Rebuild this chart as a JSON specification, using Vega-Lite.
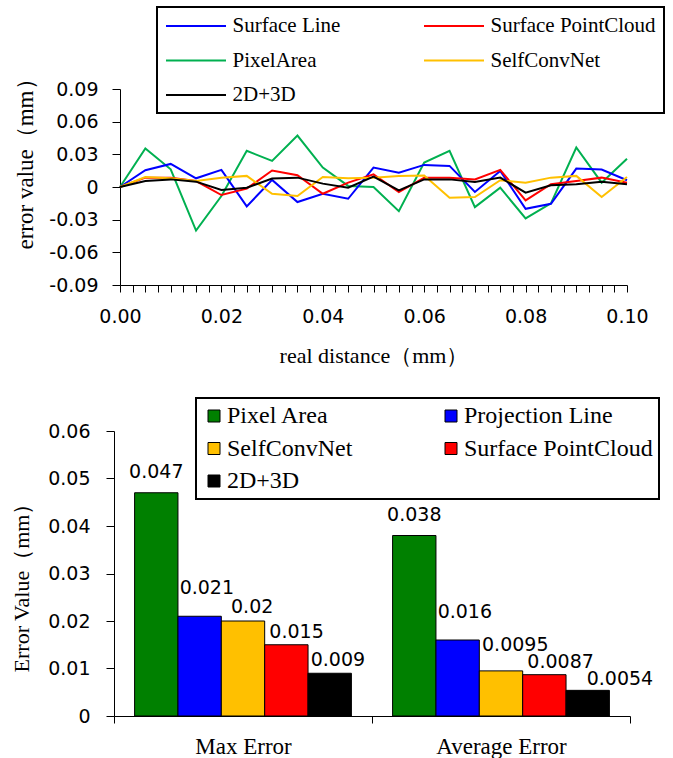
{
  "$schema": "https://vega.github.io/schema/vega-lite/v6.json",
  "autosize": {"type": "pad"},
  "padding": {"left": 10, "top": 6, "right": 0, "bottom": 0},
  "background": "white",
  "spacing": 31,
  "datasets": {
    "lines": [
      {"x": 0, "series": "PixelArea", "value": 0}, {"x": 0.005, "series": "PixelArea", "value": 0.0354}, {"x": 0.01, "series": "PixelArea", "value": 0.0163}, {"x": 0.015, "series": "PixelArea", "value": -0.040}, {"x": 0.02, "series": "PixelArea", "value": -0.0083}, {"x": 0.025, "series": "PixelArea", "value": 0.0332}, {"x": 0.03, "series": "PixelArea", "value": 0.024}, {"x": 0.035, "series": "PixelArea", "value": 0.0472}, {"x": 0.04, "series": "PixelArea", "value": 0.0178}, {"x": 0.045, "series": "PixelArea", "value": 0.001}, {"x": 0.05, "series": "PixelArea", "value": 0}, {"x": 0.055, "series": "PixelArea", "value": -0.0222}, {"x": 0.06, "series": "PixelArea", "value": 0.0225}, {"x": 0.065, "series": "PixelArea", "value": 0.0332}, {"x": 0.07, "series": "PixelArea", "value": -0.0185}, {"x": 0.075, "series": "PixelArea", "value": -0.0006}, {"x": 0.08, "series": "PixelArea", "value": -0.0289}, {"x": 0.085, "series": "PixelArea", "value": -0.015}, {"x": 0.09, "series": "PixelArea", "value": 0.0363}, {"x": 0.095, "series": "PixelArea", "value": 0.004}, {"x": 0.1, "series": "PixelArea", "value": 0.026},
      {"x": 0, "series": "Surface Line", "value": 0}, {"x": 0.005, "series": "Surface Line", "value": 0.0154}, {"x": 0.01, "series": "Surface Line", "value": 0.0212}, {"x": 0.015, "series": "Surface Line", "value": 0.008}, {"x": 0.02, "series": "Surface Line", "value": 0.0157}, {"x": 0.025, "series": "Surface Line", "value": -0.0178}, {"x": 0.03, "series": "Surface Line", "value": 0.0065}, {"x": 0.035, "series": "Surface Line", "value": -0.0138}, {"x": 0.04, "series": "Surface Line", "value": -0.0062}, {"x": 0.045, "series": "Surface Line", "value": -0.0108}, {"x": 0.05, "series": "Surface Line", "value": 0.0178}, {"x": 0.055, "series": "Surface Line", "value": 0.0132}, {"x": 0.06, "series": "Surface Line", "value": 0.0203}, {"x": 0.065, "series": "Surface Line", "value": 0.0194}, {"x": 0.07, "series": "Surface Line", "value": -0.0046}, {"x": 0.075, "series": "Surface Line", "value": 0.0148}, {"x": 0.08, "series": "Surface Line", "value": -0.02}, {"x": 0.085, "series": "Surface Line", "value": -0.0154}, {"x": 0.09, "series": "Surface Line", "value": 0.0169}, {"x": 0.095, "series": "Surface Line", "value": 0.016}, {"x": 0.1, "series": "Surface Line", "value": 0.0062},
      {"x": 0, "series": "Surface PointCloud", "value": 0}, {"x": 0.005, "series": "Surface PointCloud", "value": 0.0086}, {"x": 0.01, "series": "Surface PointCloud", "value": 0.0086}, {"x": 0.015, "series": "Surface PointCloud", "value": 0.0055}, {"x": 0.02, "series": "Surface PointCloud", "value": -0.0074}, {"x": 0.025, "series": "Surface PointCloud", "value": -0.0015}, {"x": 0.03, "series": "Surface PointCloud", "value": 0.0151}, {"x": 0.035, "series": "Surface PointCloud", "value": 0.0108}, {"x": 0.04, "series": "Surface PointCloud", "value": -0.0062}, {"x": 0.045, "series": "Surface PointCloud", "value": 0.004}, {"x": 0.05, "series": "Surface PointCloud", "value": 0.0117}, {"x": 0.055, "series": "Surface PointCloud", "value": -0.0046}, {"x": 0.06, "series": "Surface PointCloud", "value": 0.0086}, {"x": 0.065, "series": "Surface PointCloud", "value": 0.0086}, {"x": 0.07, "series": "Surface PointCloud", "value": 0.007}, {"x": 0.075, "series": "Surface PointCloud", "value": 0.0157}, {"x": 0.08, "series": "Surface PointCloud", "value": -0.0123}, {"x": 0.085, "series": "Surface PointCloud", "value": 0.0025}, {"x": 0.09, "series": "Surface PointCloud", "value": 0.0055}, {"x": 0.095, "series": "Surface PointCloud", "value": 0.0086}, {"x": 0.1, "series": "Surface PointCloud", "value": 0.004},
      {"x": 0, "series": "SelfConvNet", "value": 0}, {"x": 0.005, "series": "SelfConvNet", "value": 0.0092}, {"x": 0.01, "series": "SelfConvNet", "value": 0.008}, {"x": 0.015, "series": "SelfConvNet", "value": 0.0055}, {"x": 0.02, "series": "SelfConvNet", "value": 0.0086}, {"x": 0.025, "series": "SelfConvNet", "value": 0.0102}, {"x": 0.03, "series": "SelfConvNet", "value": -0.0062}, {"x": 0.035, "series": "SelfConvNet", "value": -0.0083}, {"x": 0.04, "series": "SelfConvNet", "value": 0.0092}, {"x": 0.045, "series": "SelfConvNet", "value": 0.008}, {"x": 0.05, "series": "SelfConvNet", "value": 0.0086}, {"x": 0.055, "series": "SelfConvNet", "value": 0.0102}, {"x": 0.06, "series": "SelfConvNet", "value": 0.0105}, {"x": 0.065, "series": "SelfConvNet", "value": -0.0098}, {"x": 0.07, "series": "SelfConvNet", "value": -0.0092}, {"x": 0.075, "series": "SelfConvNet", "value": 0.0062}, {"x": 0.08, "series": "SelfConvNet", "value": 0.004}, {"x": 0.085, "series": "SelfConvNet", "value": 0.0086}, {"x": 0.09, "series": "SelfConvNet", "value": 0.0102}, {"x": 0.095, "series": "SelfConvNet", "value": -0.0092}, {"x": 0.1, "series": "SelfConvNet", "value": 0.0092},
      {"x": 0, "series": "2D+3D", "value": 0}, {"x": 0.005, "series": "2D+3D", "value": 0.0055}, {"x": 0.01, "series": "2D+3D", "value": 0.007}, {"x": 0.015, "series": "2D+3D", "value": 0.0049}, {"x": 0.02, "series": "2D+3D", "value": -0.0028}, {"x": 0.025, "series": "2D+3D", "value": -0.0006}, {"x": 0.03, "series": "2D+3D", "value": 0.0077}, {"x": 0.035, "series": "2D+3D", "value": 0.0086}, {"x": 0.04, "series": "2D+3D", "value": 0.0031}, {"x": 0.045, "series": "2D+3D", "value": -0.0006}, {"x": 0.05, "series": "2D+3D", "value": 0.0095}, {"x": 0.055, "series": "2D+3D", "value": -0.0031}, {"x": 0.06, "series": "2D+3D", "value": 0.007}, {"x": 0.065, "series": "2D+3D", "value": 0.007}, {"x": 0.07, "series": "2D+3D", "value": 0.0046}, {"x": 0.075, "series": "2D+3D", "value": 0.0086}, {"x": 0.08, "series": "2D+3D", "value": -0.0052}, {"x": 0.085, "series": "2D+3D", "value": 0.0015}, {"x": 0.09, "series": "2D+3D", "value": 0.0025}, {"x": 0.095, "series": "2D+3D", "value": 0.0049}, {"x": 0.1, "series": "2D+3D", "value": 0.0025}
    ],
    "bars": [
      {"category": "Max Error", "method": "Pixel Area", "value": 0.047},
      {"category": "Max Error", "method": "Projection Line", "value": 0.021},
      {"category": "Max Error", "method": "SelfConvNet", "value": 0.02},
      {"category": "Max Error", "method": "Surface PointCloud", "value": 0.015},
      {"category": "Max Error", "method": "2D+3D", "value": 0.009},
      {"category": "Average Error", "method": "Pixel Area", "value": 0.038},
      {"category": "Average Error", "method": "Projection Line", "value": 0.016},
      {"category": "Average Error", "method": "SelfConvNet", "value": 0.0095},
      {"category": "Average Error", "method": "Surface PointCloud", "value": 0.0087},
      {"category": "Average Error", "method": "2D+3D", "value": 0.0054}
    ]
  },
  "vconcat": [
    {
      "width": 513,
      "height": 196,
      "data": {"name": "lines"},
      "mark": {"type": "line", "strokeWidth": 2},
      "encoding": {
        "x": {
          "field": "x", "type": "quantitative",
          "scale": {"domain": [0, 0.1], "range": [6, 513], "nice": false, "zero": false},
          "axis": {
            "title": "real distance（mm）",
            "values": [0,0.0025,0.005,0.0075,0.01,0.0125,0.015,0.0175,0.02,0.0225,0.025,0.0275,0.03,0.0325,0.035,0.0375,0.04,0.0425,0.045,0.0475,0.05,0.0525,0.055,0.0575,0.06,0.0625,0.065,0.0675,0.07,0.0725,0.075,0.0775,0.08,0.0825,0.085,0.0875,0.09,0.0925,0.095,0.0975,0.1],
            "labelExpr": "abs(datum.value*50 - round(datum.value*50)) < 0.001 ? format(datum.value, '.2f') : ''",
            "labelOverlap": false,
            "labelFlush": false,
            "tickSize": 7,
            "labelPadding": 15,
            "titleY": 70,
            "titleBaseline": "middle"
          }
        },
        "y": {
          "field": "value", "type": "quantitative",
          "scale": {"domain": [-0.09, 0.09], "nice": false},
          "axis": {
            "title": "error value（mm）",
            "values": [-0.09, -0.06, -0.03, 0, 0.03, 0.06, 0.09],
            "labelExpr": "datum.value == 0 ? '0' : (datum.value < 0 ? '-' : '') + format(abs(datum.value), '.2f')",
            "offset": -6,
            "tickSize": 8,
            "labelPadding": 14,
            "titleFontSize": 23,
            "titleX": -95,
            "titleY": 69,
            "titleAngle": -90,
            "titleBaseline": "middle",
            "titleAlign": "center"
          }
        },
        "color": {
          "field": "series", "type": "nominal",
          "scale": {
            "domain": ["Surface Line", "PixelArea", "2D+3D", "Surface PointCloud", "SelfConvNet"],
            "range": ["#0000FF", "#00B050", "#000000", "#FF0000", "#FFC000"]
          },
          "legend": {
            "title": null,
            "orient": "none",
            "legendX": 43,
            "legendY": -82,
            "columns": 2,
            "columnPadding": 79,
            "rowPadding": 13.5,
            "padding": 8,
            "symbolType": "M-1,0H5",
            "symbolSize": 400,
            "symbolStrokeWidth": 2,
            "labelOffset": 45.5,
            "labelFont": "Liberation Serif",
            "labelFontSize": 21,
            "labelColor": "black",
            "labelLimit": 400,
            "fillColor": "white",
            "strokeColor": "black"
          }
        }
      }
    },
    {
      "width": 516,
      "height": 285,
      "data": {"name": "bars"},
      "encoding": {
        "x": {
          "field": "category", "type": "nominal",
          "scale": {"domain": ["Max Error", "Average Error"], "paddingInner": 0, "paddingOuter": 0},
          "axis": {
            "title": null,
            "labelAngle": 0,
            "tickBand": "extent",
            "tickSize": 7,
            "labelPadding": 12,
            "labelFont": "Liberation Serif",
            "labelFontSize": 23
          }
        },
        "xOffset": {
          "field": "method", "type": "nominal",
          "scale": {"domain": ["Pixel Area", "Projection Line", "SelfConvNet", "Surface PointCloud", "2D+3D"], "paddingInner": 0, "paddingOuter": 0.475}
        },
        "y": {
          "field": "value", "type": "quantitative",
          "scale": {"domain": [0, 0.06], "nice": false},
          "axis": {
            "title": "Error Value（mm）",
            "values": [0, 0.01, 0.02, 0.03, 0.04, 0.05, 0.06],
            "labelExpr": "datum.value == 0 ? '0' : format(datum.value, '.2f')",
            "tickSize": 8,
            "labelPadding": 16,
            "titleX": -93,
            "titleY": 151,
            "titleAngle": -90,
            "titleBaseline": "middle",
            "titleAlign": "center"
          }
        },
        "text": {"field": "value", "type": "quantitative", "format": ".2~r"}
      },
      "layer": [
        {
          "mark": {"type": "bar", "stroke": "black", "strokeWidth": 1},
          "encoding": {
            "text": null,
            "color": {
              "field": "method", "type": "nominal",
              "scale": {
                "domain": ["Pixel Area", "SelfConvNet", "2D+3D", "Projection Line", "Surface PointCloud"],
                "range": ["#008000", "#FFC000", "#000000", "#0000FF", "#FF0000"]
              },
              "legend": {
                "title": null,
                "orient": "none",
                "legendX": 82,
                "legendY": -33,
                "columns": 2,
                "columnPadding": 86,
                "rowPadding": 8.5,
                "padding": 6,
                "symbolType": "square",
                "symbolSize": 144,
                "symbolStrokeColor": "black",
                "symbolStrokeWidth": 1,
                "symbolOpacity": 1,
                "labelOffset": 1,
                "labelFont": "Liberation Serif",
                "labelFontSize": 24,
                "labelColor": "black",
                "labelLimit": 400,
                "fillColor": "white",
                "strokeColor": "black"
              }
            }
          }
        },
        {
          "transform": [{"filter": "datum.method == 'Pixel Area'"}],
          "mark": {"type": "text", "align": "center", "baseline": "middle", "dy": -21, "font": "DejaVu Sans", "fontSize": 19, "color": "black"}
        },
        {
          "transform": [{"filter": "datum.method == 'Projection Line'"}],
          "mark": {"type": "text", "align": "left", "baseline": "middle", "dx": -20, "dy": -28, "font": "DejaVu Sans", "fontSize": 19, "color": "black"}
        },
        {
          "transform": [{"filter": "datum.method == 'SelfConvNet' && datum.category == 'Max Error'"}],
          "mark": {"type": "text", "align": "left", "baseline": "middle", "dx": -12, "dy": -14, "font": "DejaVu Sans", "fontSize": 19, "color": "black"}
        },
        {
          "transform": [{"filter": "datum.method == 'SelfConvNet' && datum.category == 'Average Error'"}],
          "mark": {"type": "text", "align": "left", "baseline": "middle", "dx": -19, "dy": -26, "font": "DejaVu Sans", "fontSize": 19, "color": "black"}
        },
        {
          "transform": [{"filter": "datum.method == 'Surface PointCloud'"}],
          "mark": {"type": "text", "align": "left", "baseline": "middle", "dx": -17, "dy": -13, "font": "DejaVu Sans", "fontSize": 19, "color": "black"}
        },
        {
          "transform": [{"filter": "datum.method == '2D+3D' && datum.category == 'Max Error'"}],
          "mark": {"type": "text", "align": "left", "baseline": "middle", "dx": -19, "dy": -13, "font": "DejaVu Sans", "fontSize": 19, "color": "black"}
        },
        {
          "transform": [{"filter": "datum.method == '2D+3D' && datum.category == 'Average Error'"}],
          "mark": {"type": "text", "align": "left", "baseline": "middle", "dx": -1, "dy": -11, "font": "DejaVu Sans", "fontSize": 19, "color": "black"}
        }
      ]
    }
  ],
  "resolve": {"scale": {"color": "independent"}, "legend": {"color": "independent"}},
  "config": {
    "view": {"stroke": null},
    "legend": {"strokeWidth": 2},
    "axis": {
      "grid": false,
      "domainColor": "black",
      "domainWidth": 1,
      "tickColor": "black",
      "tickWidth": 1,
      "labelFont": "DejaVu Sans",
      "labelFontSize": 19,
      "labelColor": "black",
      "titleFont": "Liberation Serif",
      "titleFontSize": 22,
      "titleFontWeight": "normal",
      "titleColor": "black"
    }
  }
}
